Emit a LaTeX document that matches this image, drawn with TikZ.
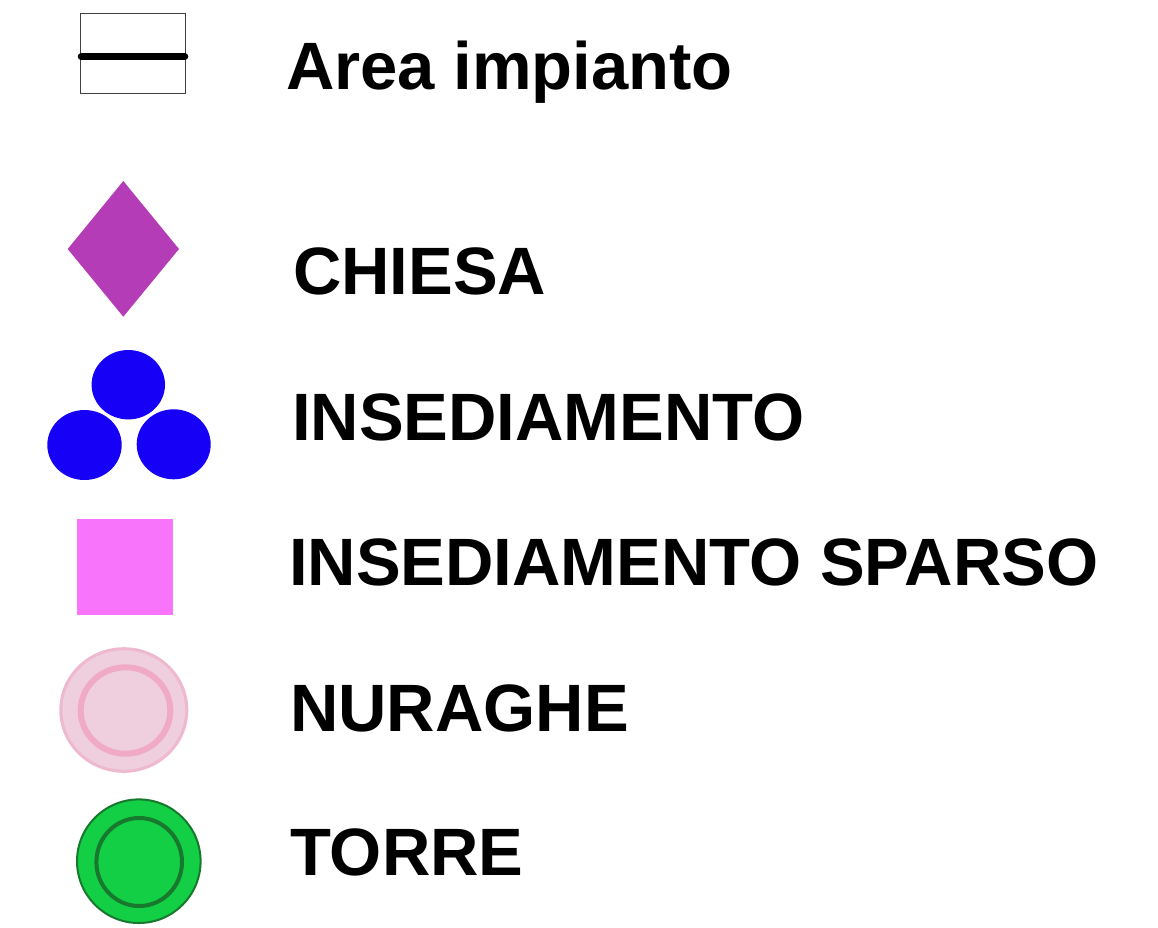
\documentclass[tikz,border=0pt]{standalone}
\usepackage{fontspec}
\setmainfont{Liberation Sans}
\definecolor{chiesa}{RGB}{180,60,182}
\definecolor{insed}{RGB}{22,0,245}
\definecolor{sparso}{RGB}{248,117,251}
\definecolor{nurfill}{RGB}{239,206,221}
\definecolor{nurring}{RGB}{240,170,197}
\definecolor{nuredge}{RGB}{238,184,206}
\definecolor{torfill}{RGB}{18,207,69}
\definecolor{torline}{RGB}{24,120,45}
\begin{document}
\begin{tikzpicture}[x=1pt,y=-1pt,
  lbl/.style={anchor=base west,inner sep=0pt,font=\fontsize{67}{80}\selectfont\bfseries,text=black}]
\useasboundingbox (0,0) rectangle (1158,927);
% Area impianto
\draw[line width=0.9pt,black!75] (80.7,13.7) rectangle (185.7,93.3);
\coordinate (al) at (81,56.7);
\coordinate (ar) at (185,56.7);
\draw[line width=6.5pt,line cap=round] (al) -- (ar);
\node[lbl] (t1) at (286,89.3) {Area impianto};
% Chiesa
\fill[chiesa] (123.3,181) -- (179,249) -- (123.3,316.7) -- (67.7,249) -- cycle;
\node[lbl] (t2) at (293,294) {CHIESA};
% Insediamento
\fill[insed] (128.3,384.7) ellipse [x radius=36.7,y radius=34.7];
\fill[insed] (84.5,445) ellipse [x radius=37.2,y radius=35];
\fill[insed] (173.7,444.3) ellipse [x radius=37,y radius=35];
\node[lbl] (t3) at (292,440) {INSEDIAMENTO};
% Insediamento sparso
\fill[sparso] (76.7,519) rectangle (173.3,615);
\node[lbl] (t4) at (289,585) {INSEDIAMENTO SPARSO};
% Nuraghe
\filldraw[fill=nurfill,draw=nuredge,line width=3pt] (123.8,710) ellipse [x radius=63,y radius=61.3];
\draw[nurring,line width=6pt] (125.5,710.5) ellipse [x radius=44.8,y radius=43.2];
\node[lbl] (t5) at (290,731.7) {NURAGHE};
% Torre
\filldraw[fill=torfill,draw=torline,line width=2pt] (138.8,861.2) ellipse [x radius=61.8,y radius=61.8];
\draw[torline,line width=4pt] (139.2,862) ellipse [x radius=42.8,y radius=44];
\node[lbl] (t6) at (290,875) {TORRE};
\end{tikzpicture}
\end{document}
